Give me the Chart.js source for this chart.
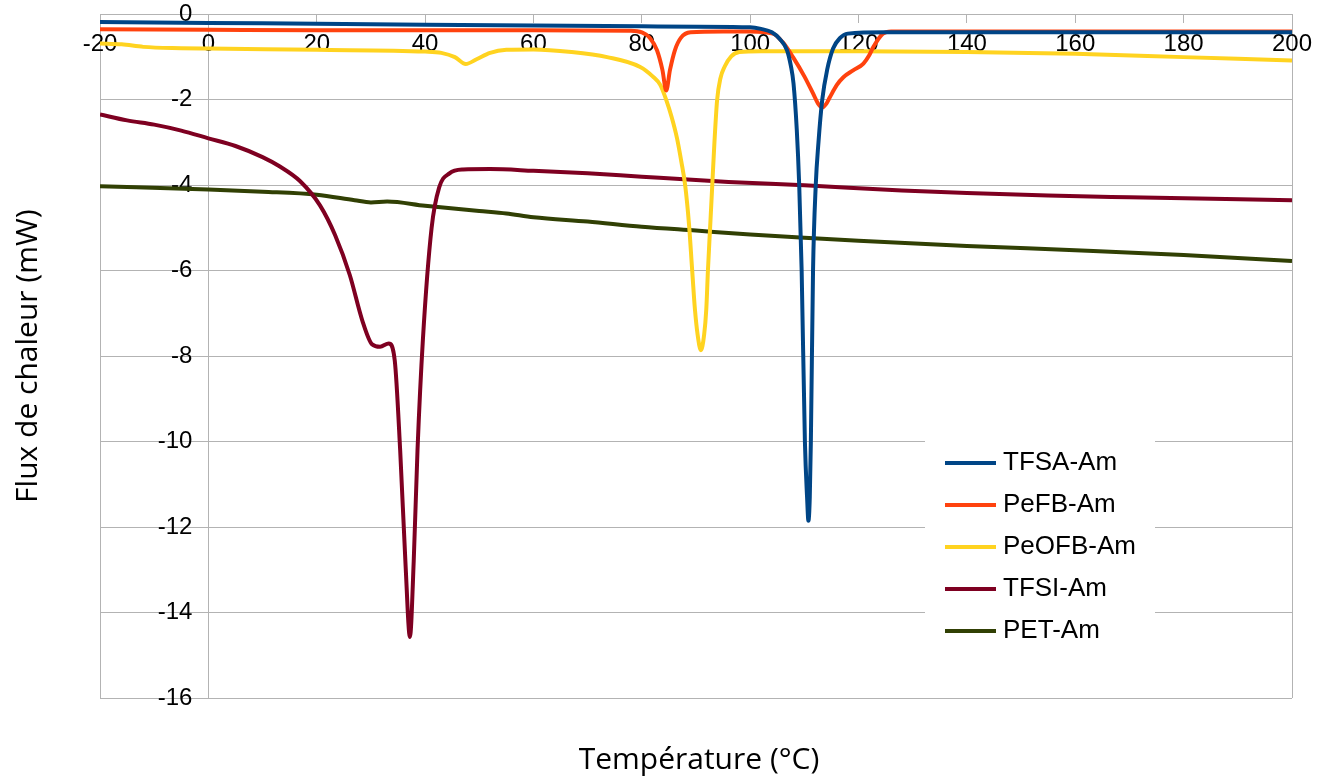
<!DOCTYPE html>
<html><head><meta charset="utf-8">
<script src="https://cdn.jsdelivr.net/npm/chart.js@4"></script>
<style>html,body{margin:0;padding:0;background:#fff;}canvas{display:block;}</style>
</head><body>
<canvas id="c" width="1327" height="780"></canvas>
<script>
// ---- data ----
const seriesNames = ['TFSA-Am', 'PeFB-Am', 'PeOFB-Am', 'TFSI-Am', 'PET-Am'];
const seriesColors = ['#004586', '#ff420e', '#ffd320', '#7e0021', '#314004'];

const tfsaT = [-20, 0, 20, 40, 60, 80, 100, 102, 104, 105.5, 106.8, 107.5, 108, 108.6, 109.05, 109.5, 110.1, 110.5, 110.75, 111, 111.2, 111.6, 112.1, 112.6, 113.3, 114.2, 115.3, 116.6, 118, 125, 200];
const tfsaV = [-0.18, -0.2, -0.22, -0.24, -0.26, -0.28, -0.3, -0.34, -0.42, -0.58, -0.84, -1.2, -1.62, -2.7, -4, -6, -10, -11.3, -11.85, -11.3, -10, -6, -4, -3, -2, -1.3, -0.8, -0.55, -0.45, -0.42, -0.42];

const pefbT = [-20, 0, 20, 40, 60, 78, 80, 81.5, 82.8, 83.8, 84.5, 85.2, 86.1, 87.2, 89, 95, 100, 104.2, 106, 107.9, 110, 111.6, 112.5, 113.3, 114, 114.7, 116, 117.2, 119, 120.9, 122, 122.7, 124.5, 126, 140, 160, 180, 200];
const pefbV = [-0.35, -0.36, -0.37, -0.37, -0.37, -0.38, -0.42, -0.55, -0.84, -1.3, -1.78, -1.3, -0.84, -0.55, -0.42, -0.4, -0.4, -0.45, -0.65, -1.0, -1.45, -1.85, -2.08, -2.18, -2.1, -1.94, -1.65, -1.47, -1.31, -1.15, -0.95, -0.77, -0.45, -0.4, -0.4, -0.4, -0.4, -0.4];

const peofbT = [-20, -16, -12, -5, 0, 20, 40, 43, 45.5, 47.5, 49.5, 52, 55, 60, 67, 73.6, 79.7, 82, 83.4, 84.5, 85.5, 86.5, 87.3, 88, 88.7, 89.3, 89.8, 90.3, 90.9, 91.5, 91.9, 92.2, 92.6, 93, 93.4, 93.9, 94.5, 95.3, 96.5, 98, 102, 120, 140, 160, 180, 200];
const peofbV = [-0.68, -0.7, -0.76, -0.79, -0.8, -0.83, -0.87, -0.9, -1.0, -1.16, -1.05, -0.9, -0.83, -0.82, -0.88, -1.0, -1.23, -1.45, -1.65, -2.0, -2.4, -2.9, -3.45, -4.0, -4.9, -6.0, -6.9, -7.5, -7.86, -7.5, -6.9, -6.0, -5.0, -4.0, -3.0, -2.0, -1.5, -1.22, -0.98, -0.88, -0.86, -0.86, -0.88, -0.92, -1.0, -1.08];

const tfsiT = [-20, -15, -10, -5, 0, 5, 10, 13.2, 16.9, 20.6, 23.4, 26.1, 28.4, 30.2, 31.7, 33.3, 34.4, 35.4, 36.4, 37.2, 37.9, 38.6, 39.6, 41.2, 42.6, 44.5, 47, 52, 60, 70, 80, 96, 110, 128, 140, 155, 170, 200];
const tfsiV = [-2.34, -2.48, -2.58, -2.72, -2.9, -3.08, -3.34, -3.56, -3.9, -4.47, -5.17, -6.1, -7.16, -7.72, -7.78, -7.7, -8.1, -10.2, -12.9, -14.57, -12.8, -10.2, -7.6, -5.0, -4.05, -3.72, -3.63, -3.62, -3.66, -3.72, -3.8, -3.92, -4.0, -4.12, -4.18, -4.24, -4.28, -4.35];

const petT = [-20, 0, 10, 20, 27, 30, 33, 40, 50, 55, 60, 70, 80, 90, 100, 110, 120, 140, 160, 180, 200];
const petV = [-4.02, -4.1, -4.15, -4.22, -4.35, -4.4, -4.38, -4.48, -4.6, -4.66, -4.75, -4.85, -4.97, -5.06, -5.15, -5.23, -5.3, -5.42, -5.52, -5.63, -5.77];

const xTicks = [-20, 0, 20, 40, 60, 80, 100, 120, 140, 160, 180, 200];
const yTicks = [0, -2, -4, -6, -8, -10, -12, -14, -16];
const xTitle = 'Température (°C)';
const yTitle = 'Flux de chaleur (mW)';

// ---- chart ----
const GRID = '#b3b3b3';
const seriesT = [tfsaT, pefbT, peofbT, tfsiT, petT];
const seriesV = [tfsaV, pefbV, peofbV, tfsiV, petV];
const datasets = seriesNames.map((name, i) => ({
  label: name,
  data: seriesT[i].map((t, k) => ({x: t, y: seriesV[i][k]})),
  borderColor: seriesColors[i],
  backgroundColor: seriesColors[i],
  borderWidth: 4,
  pointRadius: 0,
  cubicInterpolationMode: 'monotone',
  fill: false
}));

const titlesPlugin = {
  id: 'titles',
  afterDraw(chart) {
    const {ctx, chartArea} = chart;
    ctx.save();
    ctx.fillStyle = '#000';
    ctx.font = '30px "Open Sans"';
    ctx.textAlign = 'center';
    ctx.textBaseline = 'middle';
    ctx.fillText(xTitle, 699, 760);
    ctx.translate(28, (chartArea.top + chartArea.bottom) / 2);
    ctx.rotate(-Math.PI / 2);
    ctx.fillText(yTitle, 0, 0);
    ctx.restore();
  }
};

const legendPlugin = {
  id: 'insideLegend',
  afterDraw(chart) {
    const {ctx} = chart;
    ctx.save();
    ctx.fillStyle = '#fff';
    ctx.fillRect(925, 432, 230, 222);
    ctx.font = '26px "Liberation Sans"';
    ctx.textBaseline = 'middle';
    ctx.textAlign = 'left';
    chart.data.datasets.forEach((ds, i) => {
      const y = 463 + i * 42;
      ctx.strokeStyle = ds.borderColor;
      ctx.lineWidth = 4;
      ctx.beginPath();
      ctx.moveTo(945, y);
      ctx.lineTo(996, y);
      ctx.stroke();
      ctx.fillStyle = '#000';
      ctx.fillText(ds.label, 1003, y);
    });
    ctx.restore();
  }
};

new Chart(document.getElementById('c'), {
  type: 'line',
  data: {datasets},
  options: {
    responsive: false,
    animation: false,
    layout: {padding: {left: 100, right: 35, top: 14, bottom: 82}},
    plugins: {legend: {display: false}, tooltip: {enabled: false}},
    scales: {
      x: {
        type: 'linear', min: -20, max: 200,
        position: {y: 0},
        afterFit(s) { s.height = 0; },
        afterBuildTicks(s) { s.ticks = xTicks.map(v => ({value: v})); },
        grid: {
          color: (c) => (c.tick && (c.tick.value === -20 || c.tick.value === 0 || c.tick.value === 200)) ? GRID : 'rgba(0,0,0,0)',
          tickColor: GRID, tickLength: 8, lineWidth: 1
        },
        border: {display: true, color: GRID, width: 1},
        ticks: {font: {family: 'Liberation Sans', size: 24}, color: '#000', padding: 8, maxRotation: 0, autoSkip: false}
      },
      y: {
        type: 'linear', min: -16, max: 0,
        position: {x: -2.95},
        afterFit(s) { s.width = 0; },
        afterBuildTicks(s) { s.ticks = yTicks.map(v => ({value: v})); },
        grid: {color: GRID, lineWidth: 1, drawTicks: false},
        border: {display: false},
        ticks: {font: {family: 'Liberation Sans', size: 24}, color: '#000', padding: 0, autoSkip: false}
      }
    }
  },
  plugins: [titlesPlugin, legendPlugin]
});
</script>
</body></html>
